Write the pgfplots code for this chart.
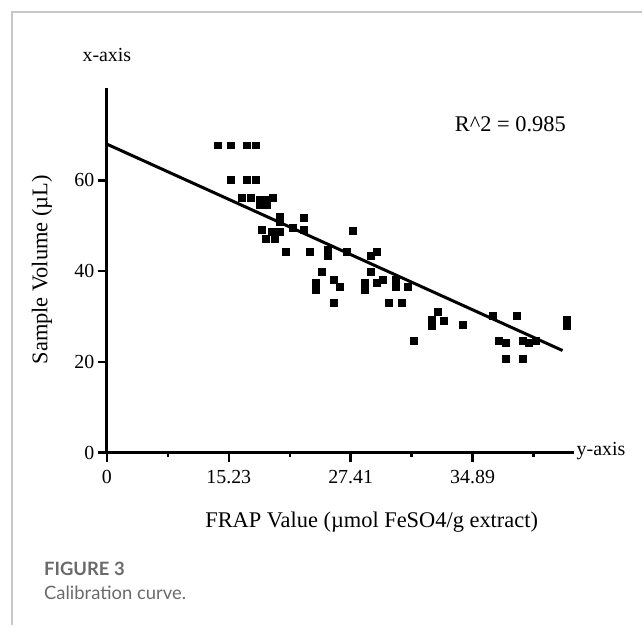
\documentclass[border=0pt]{standalone}
\usepackage{fontspec}
\setmainfont{Liberation Serif}
\newfontfamily\capfont{Lato}
\usepackage{pgfplots}
\pgfplotsset{compat=1.18}
\definecolor{capgray}{HTML}{6A6A6A}
\definecolor{framegray}{HTML}{C8C8C8}

% x positions: one unit per labelled tick (labels are not linear)
\pgfplotstableread{
x y
0.910 67.8
1.016 67.8
1.148 67.8
1.221 67.8
1.016 60.1
1.148 60.1
1.221 60.1
1.107 56.2
1.180 56.2
1.254 55.9
1.311 55.9
1.254 54.6
1.311 54.6
1.361 56.2
1.418 52.0
1.418 50.9
1.615 51.8
1.270 49.1
1.352 48.7
1.418 48.7
1.525 49.6
1.615 49.1
1.303 47.1
1.377 47.1
1.467 44.3
1.664 44.3
1.811 44.7
1.811 43.4
1.967 44.3
2.016 48.9
2.164 43.4
2.213 44.3
1.762 39.9
2.164 39.9
1.713 37.4
1.713 35.9
1.861 38.1
1.910 36.6
2.115 37.4
2.115 35.9
2.213 37.4
2.262 38.1
2.369 38.1
2.369 36.6
2.467 36.6
1.861 33.0
2.311 33.0
2.418 33.0
2.516 24.7
2.713 31.1
2.664 29.3
2.664 28.0
2.762 29.1
2.918 28.2
3.164 30.2
3.361 30.2
3.213 24.7
3.270 24.2
3.410 24.7
3.459 24.2
3.516 24.7
3.270 20.7
3.410 20.7
3.770 29.3
3.770 28.0
}\samples

\begin{document}
\begin{tikzpicture}[x=1bp,y=1bp]
\path (0,0) rectangle (643,626);
\draw[framegray, line width=1.2bp] (643,614) -- (12,614) -- (12,0);
\begin{axis}[
  at={(107bp,173bp)}, anchor=south west,
  scale only axis, width=468bp, height=365bp,
  xmin=0, xmax=3.836, ymin=0, ymax=80.4,
  axis x line=bottom, axis y line=left,
  axis line style={-, line width=3bp},
  xtick={0,1,2,3},
  xticklabels={0,15.23,\raisebox{-4bp}{27.41},34.89},
  minor xtick={0.5,1.5,2.5,3.5},
  ytick={0,20,40,60},
  tick align=outside,
  major tick length=9bp, minor tick length=4bp,
  every tick/.style={black, line width=2.4bp},
  ticklabel style={font=\fontsize{20}{24}\selectfont},
  xticklabel style={yshift=-5bp},
  /pgf/number format/assume math mode=true,
  clip=false,
]
\addplot[only marks, mark=square*, mark size=3.3bp, black] table {\samples};
\addplot[black, line width=3bp] coordinates {(0,68.0) (3.738,22.5)};
\node[font=\fontsize{22.5}{26}\selectfont] at (axis cs:3.31,72.5) {R\textasciicircum 2 = 0.985};
\end{axis}
\node[anchor=base, font=\fontsize{20}{24}\selectfont] at (107,564) {x-axis};
\node[anchor=base west, inner sep=0pt, font=\fontsize{20}{24}\selectfont] at (577,170) {y-axis};
\node[anchor=base, font=\fontsize{22.5}{26}\selectfont] at (372,98) {FRAP Value (µmol FeSO4/g extract)};
\node[rotate=90, font=\fontsize{22.5}{26}\selectfont] at (42,356) {Sample Volume (µL)};
\node[anchor=base west, inner sep=0pt, text=capgray, font=\capfont\bfseries\fontsize{18.5}{22}\selectfont] at (44,50) {FIGURE 3};
\node[anchor=base west, inner sep=0pt, text=capgray, font=\capfont\fontsize{18.5}{22}\selectfont] at (44,26) {Calibration curve.};
\end{tikzpicture}
\end{document}
